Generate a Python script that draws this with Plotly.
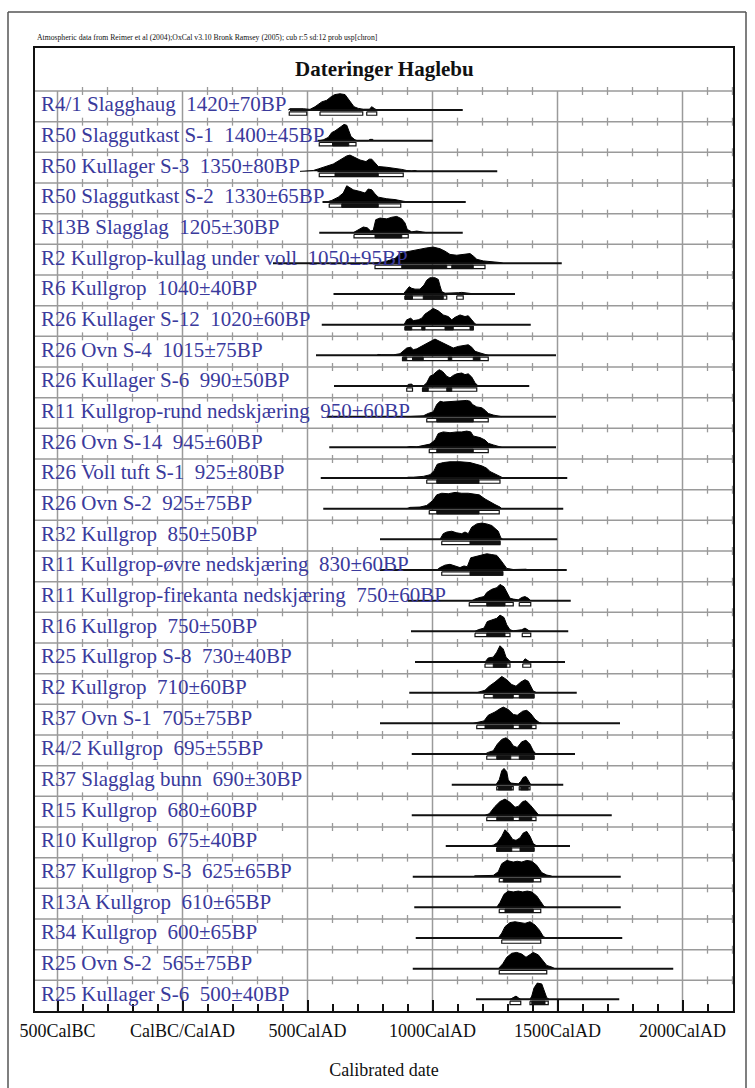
import plotly.graph_objects as go

labels = [
    "R4/1 Slagghaug  1420±70BP",
    "R50 Slaggutkast S-1  1400±45BP",
    "R50 Kullager S-3  1350±80BP",
    "R50 Slaggutkast S-2  1330±65BP",
    "R13B Slagglag  1205±30BP",
    "R2 Kullgrop-kullag under voll  1050±95BP",
    "R6 Kullgrop  1040±40BP",
    "R26 Kullager S-12  1020±60BP",
    "R26 Ovn S-4  1015±75BP",
    "R26 Kullager S-6  990±50BP",
    "R11 Kullgrop-rund nedskjæring  950±60BP",
    "R26 Ovn S-14  945±60BP",
    "R26 Voll tuft S-1  925±80BP",
    "R26 Ovn S-2  925±75BP",
    "R32 Kullgrop  850±50BP",
    "R11 Kullgrop-øvre nedskjæring  830±60BP",
    "R11 Kullgrop-firekanta nedskjæring  750±60BP",
    "R16 Kullgrop  750±50BP",
    "R25 Kullgrop S-8  730±40BP",
    "R2 Kullgrop  710±60BP",
    "R37 Ovn S-1  705±75BP",
    "R4/2 Kullgrop  695±55BP",
    "R37 Slagglag bunn  690±30BP",
    "R15 Kullgrop  680±60BP",
    "R10 Kullgrop  675±40BP",
    "R37 Kullgrop S-3  625±65BP",
    "R13A Kullgrop  610±65BP",
    "R34 Kullgrop  600±65BP",
    "R25 Ovn S-2  565±75BP",
    "R25 Kullager S-6  500±40BP",
]

line_start = [430, 540, 540, 560, 547, 362, 604, 557, 534, 606,
              578, 587, 553, 563, 790, 790, 900, 914, 930, 907,
              790, 917, 1077, 917, 1053, 921, 927, 933, 921, 1174]
line_end = [1121, 1001, 1259, 1133, 1121, 1517, 1330, 1393, 1494, 1387,
            1494, 1494, 1539, 1523, 1499, 1537, 1553, 1543, 1530, 1577,
            1750, 1570, 1523, 1717, 1550, 1753, 1753, 1759, 1963, 1747]

dist_years = [
    [423, 430, 483, 510, 530, 543, 557, 577, 597, 610, 630, 650, 663, 673, 686, 703, 723, 747, 757, 767, 777],
    [547, 563, 583, 597, 610, 630, 646, 657, 666, 674, 690, 699, 743, 750, 761, 766],
    [470, 490, 523, 543, 577, 603, 630, 657, 670, 690, 710, 734, 747, 757, 770, 783, 817, 850, 877, 897, 917, 930, 939],
    [577, 597, 623, 643, 657, 670, 683, 710, 730, 743, 757, 770, 783, 817, 850, 883, 903],
    [683, 703, 723, 739, 753, 763, 773, 790, 817, 837, 857, 877, 890, 899, 917, 937, 963, 977],
    [760, 770, 810, 850, 870, 893, 923, 950, 977, 1003, 1030, 1050, 1070, 1097, 1117, 1137, 1150, 1163, 1177, 1203, 1243, 1270, 1283],
    [883, 894, 907, 917, 930, 950, 966, 977, 990, 1010, 1023, 1030, 1037, 1050, 1083, 1103, 1117, 1143, 1163, 1170],
    [886, 897, 913, 923, 943, 957, 970, 990, 1003, 1023, 1043, 1063, 1077, 1090, 1110, 1130, 1143, 1157, 1170, 1177],
    [777, 783, 797, 843, 870, 883, 897, 913, 923, 937, 957, 977, 997, 1010, 1030, 1050, 1070, 1083, 1103, 1123, 1143, 1157, 1170, 1190, 1210, 1223],
    [897, 903, 917, 923, 963, 977, 990, 1003, 1017, 1027, 1040, 1057, 1070, 1083, 1097, 1117, 1130, 1143, 1157, 1170, 1183],
    [897, 923, 963, 983, 1003, 1017, 1030, 1043, 1063, 1083, 1103, 1123, 1137, 1150, 1160, 1177, 1197, 1210, 1223, 1243, 1263, 1277],
    [897, 910, 937, 963, 990, 1010, 1023, 1043, 1070, 1097, 1117, 1137, 1153, 1163, 1190, 1210, 1223, 1243, 1263, 1277],
    [890, 903, 923, 963, 990, 1006, 1019, 1043, 1070, 1110, 1150, 1177, 1197, 1217, 1230, 1250, 1270, 1283],
    [897, 910, 950, 977, 1001, 1017, 1037, 1063, 1090, 1117, 1143, 1163, 1187, 1210, 1230, 1250, 1270, 1277],
    [1030, 1043, 1057, 1077, 1097, 1117, 1130, 1143, 1157, 1177, 1197, 1217, 1237, 1250, 1263, 1273, 1281],
    [1017, 1030, 1050, 1070, 1090, 1110, 1126, 1139, 1153, 1177, 1197, 1217, 1237, 1257, 1273, 1286, 1297, 1323, 1363, 1374, 1383],
    [1157, 1170, 1190, 1206, 1217, 1237, 1257, 1270, 1286, 1299, 1310, 1323, 1343, 1357, 1370, 1383, 1393],
    [1170, 1183, 1206, 1219, 1237, 1257, 1270, 1286, 1297, 1310, 1323, 1357, 1370, 1383, 1390],
    [1210, 1223, 1243, 1257, 1270, 1283, 1294, 1310, 1323, 1361, 1370, 1383, 1390],
    [1177, 1190, 1210, 1227, 1250, 1277, 1297, 1317, 1334, 1353, 1370, 1383, 1393, 1403, 1417],
    [1163, 1177, 1206, 1223, 1250, 1270, 1283, 1303, 1323, 1339, 1361, 1377, 1393, 1410, 1427, 1437],
    [1210, 1223, 1243, 1259, 1277, 1294, 1310, 1323, 1339, 1357, 1374, 1390, 1403, 1414],
    [1254, 1267, 1277, 1286, 1297, 1303, 1313, 1330, 1343, 1353, 1363, 1374, 1383, 1393],
    [1210, 1227, 1250, 1270, 1290, 1310, 1330, 1343, 1361, 1374, 1393, 1410, 1423, 1430],
    [1223, 1243, 1259, 1277, 1290, 1303, 1321, 1334, 1350, 1363, 1377, 1390, 1403, 1417],
    [1163, 1170, 1243, 1263, 1277, 1297, 1323, 1339, 1357, 1377, 1397, 1417, 1437, 1457, 1473, 1481],
    [1257, 1270, 1286, 1303, 1323, 1343, 1361, 1379, 1397, 1417, 1433, 1446, 1454],
    [1263, 1277, 1290, 1310, 1330, 1350, 1370, 1390, 1410, 1427, 1443, 1454],
    [1263, 1281, 1297, 1317, 1337, 1357, 1374, 1387, 1403, 1423, 1443, 1457, 1477, 1490],
    [1310, 1321, 1334, 1343, 1353, 1390, 1397, 1406, 1419, 1437, 1446, 1457, 1467],
]

dist_prob = [
    [0, .08, .08, .04, .2, .35, .5, .6, .85, .95, 1, .95, .7, .45, .2, .1, .05, .05, .2, .1, 0],
    [0, .05, .2, .5, .6, .8, 1, .95, .6, .25, .05, 0, 0, .08, .08, 0],
    [0, .03, .05, .15, .3, .45, .7, .95, 1, .85, .7, .6, .75, .75, .5, .3, .25, .2, .12, .05, .02, .05, 0],
    [0, .1, .3, .55, 1, .9, .75, .65, .55, .8, .75, .5, .3, .2, .15, .05, 0],
    [0, .2, .35, .3, .1, .15, .8, .9, .85, .95, 1, .85, .6, .2, .05, .1, .05, 0],
    [0, .02, .1, .3, .6, .7, .8, .9, .95, 1, .9, .75, .55, .5, .55, .6, .6, .45, .25, .15, .1, .05, 0],
    [0, .2, .45, .35, .3, .3, .55, .85, 1, 1, .9, .5, .15, .05, .05, .08, .1, .07, .05, 0],
    [0, .3, .4, .25, .3, .4, .65, .85, 1, .85, .6, .5, .3, .45, .6, .5, .55, .3, .05, 0],
    [0, .05, .03, .03, .1, .3, .45, .5, .35, .4, .55, .75, .9, 1, .85, .7, .55, .45, .55, .6, .65, .5, .25, .15, .08, 0],
    [0, .1, .12, 0, 0, .2, .6, .7, .9, 1, .9, .6, .5, .65, .75, .8, .7, .75, .55, .2, 0],
    [0, .03, .05, .2, .3, .75, .95, .9, .92, .95, .95, .95, 1, .95, .75, .6, .55, .4, .2, .1, .05, 0],
    [0, .05, .03, .1, .2, .45, .85, .95, .9, .95, .95, 1, .95, .7, .6, .45, .25, .15, .05, 0],
    [0, .05, .05, .1, .2, .45, .85, .95, 1, 1, .95, .85, .75, .6, .4, .25, .1, 0],
    [0, .08, .1, .2, .5, .85, .95, .92, 1, .95, .95, .9, .85, .6, .4, .25, .1, 0],
    [0, .35, .45, .5, .4, .35, .45, .35, .75, .95, 1, .95, .85, .7, .5, .1, 0],
    [0, .15, .3, .35, .25, .15, .25, .2, .75, .85, .9, 1, .95, .9, .6, .3, .1, .03, .02, .05, 0],
    [0, .1, .2, .25, .5, .7, .8, 1, .85, .45, .15, .1, .05, .2, .25, .15, 0],
    [0, .1, .2, .6, .7, .8, 1, .85, .4, .1, .03, .1, .2, .1, 0],
    [0, .25, .3, .6, 1, .8, .3, .05, 0, 0, .2, .1, 0],
    [0, .05, .15, .4, .65, 1, .8, .5, .4, .65, .8, .7, .4, .1, 0],
    [0, .05, .15, .5, .7, .9, 1, .85, .55, .5, .75, .8, .6, .25, .05, 0],
    [0, .1, .2, .6, .9, 1, .8, .5, .4, .75, .85, .6, .2, 0],
    [0, .3, .85, 1, .8, .3, .1, .05, .05, .2, .45, .5, .3, 0],
    [0, .1, .55, .85, 1, .8, .5, .55, .85, .9, .6, .25, .05, 0],
    [0, .05, .2, .6, 1, .8, .4, .35, .5, .8, .9, .6, .15, 0],
    [0, .05, .08, .3, .8, 1, .9, .95, .9, 1, .95, .7, .25, .1, .05, 0],
    [0, .3, .8, 1, .95, 1, .95, 1, .95, .7, .35, .05, 0],
    [0, .3, .7, .95, 1, .95, .9, 1, .8, .5, .1, 0],
    [0, .3, .7, .95, 1, .9, .7, .85, 1, .85, .5, .2, .1, 0],
    [0, .1, .2, .1, 0, 0, .2, .7, 1, .95, .5, .1, 0],
]

# range brackets under each distribution: outlined (light) and solid (dark) parts
range_light = [
    [(427, 497), (550, 721), (737, 777)], [(547, 694)], [(547, 883)], [(587, 873)], [(686, 903)],
    [(770, 1210)], [(890, 1057), (1097, 1123)], [(890, 1163)], [(880, 1223)], [(897, 920), (960, 1177)],
    [(977, 1223)], [(987, 1223)], [(977, 1270)], [(987, 1267)], [(1037, 1270)],
    [(1037, 1281)], [(1147, 1323), (1347, 1393)], [(1170, 1310), (1359, 1393)], [(1210, 1310), (1361, 1393)], [(1206, 1406)],
    [(1177, 1414)], [(1217, 1406)], [(1257, 1323), (1347, 1390)], [(1217, 1414)], [(1257, 1406)],
    [(1267, 1433)], [(1267, 1433)], [(1277, 1433)], [(1267, 1457)], [(1310, 1353), (1390, 1463)],
]
range_dark = [
    [], [(600, 665)], [(610, 783)], [(637, 783)], [(770, 877)],
    [(877, 1057), (1077, 1163)], [(890, 920), (963, 1043)], [(890, 917), (957, 970), (1050, 1083), (1150, 1163)],
    [(880, 897), (920, 963), (1063, 1077), (1163, 1190)], [(960, 983), (1057, 1077)],
    [(1017, 1163)], [(1017, 1163)], [(1017, 1186)], [(1017, 1186)], [(1150, 1270)],
    [(1150, 1281)], [(1217, 1290)], [(1217, 1290)], [(1243, 1297)], [(1243, 1323), (1347, 1406)],
    [(1210, 1323), (1347, 1397)], [(1257, 1313), (1347, 1406)], [(1263, 1317), (1353, 1383)],
    [(1257, 1323), (1347, 1397)], [(1257, 1317), (1350, 1406)],
    [(1283, 1403)], [(1290, 1403)], [], [], [(1397, 1450)],
]

tick_years = [-500, 0, 500, 1000, 1500, 2000]
tick_text = ["500CalBC", "CalBC/CalAD", "500CalAD", "1000CalAD", "1500CalAD", "2000CalAD"]

# ---- geometry -------------------------------------------------------------
W, H = 755, 1088
PX_L, PX_R, PX_T, PX_B = 35, 733, 48, 1011
ROW_PX = (PX_B - 91) / 30
X_RANGE = [-590, 2202]
Y_TOP = -(91 - PX_T) / ROW_PX
BASE, PEAK = 0.62, 0.53
BAR_T, BAR_B = 0.06, 0.17
GRID = "#9a9a9a"
INK = "#111111"
BLUE = "#3a3a9c"
SERIF = "Liberation Serif, Times New Roman, serif"
n = len(labels)

fig = go.Figure()

# horizontal row separators + little crossing ticks every 100 years
gx, gy, tx, ty = [], [], [], []
for k in range(n):
    gx += [X_RANGE[0], X_RANGE[1], None]
    gy += [k, k, None]
    for yr in range(-500, 2201, 100):
        if yr % 500:
            tx += [yr, yr, None]
            ty += [k - 0.13, k + 0.13, None]
for yr in tick_years:
    gx += [yr, yr, None]
    gy += [0, n, None]
fig.add_scatter(x=gx, y=gy, mode="lines", line=dict(color=GRID, width=1.5), hoverinfo="skip")
fig.add_scatter(x=tx, y=ty, mode="lines", line=dict(color=GRID, width=1.3), hoverinfo="skip")

# distributions
px_, py_ = [], []
for i in range(n):
    base = i + BASE
    px_ += dist_years[i] + [None]
    py_ += [base - p * PEAK for p in dist_prob[i]] + [None]
fig.add_scatter(x=px_, y=py_, mode="lines", fill="toself", fillcolor="black",
                line=dict(color="black", width=1), hoverinfo="skip")

# baselines
lx, ly = [], []
for i in range(n):
    lx += [line_start[i], line_end[i], None]
    ly += [i + BASE, i + BASE, None]
fig.add_scatter(x=lx, y=ly, mode="lines", line=dict(color=INK, width=2), hoverinfo="skip")


def bar_path(segments_by_row):
    bx, by = [], []
    for i, segs in enumerate(segments_by_row):
        t, b = i + BASE + BAR_T, i + BASE + BAR_B
        for a, c in segs:
            bx += [a, c, c, a, a, None]
            by += [t, t, b, b, t, None]
    return bx, by


bx, by = bar_path(range_light)
fig.add_scatter(x=bx, y=by, mode="lines", fill="toself", fillcolor="white",
                line=dict(color=INK, width=1.2), hoverinfo="skip")
bx, by = bar_path(range_dark)
fig.add_scatter(x=bx, y=by, mode="lines", fill="toself", fillcolor=INK,
                line=dict(color=INK, width=1), hoverinfo="skip")

# sample labels
for i, lab in enumerate(labels):
    fig.add_annotation(x=39 / W, xref="paper", y=i + 0.43, yref="y",
                       text=lab.replace("  ", "\u00a0\u00a0"), showarrow=False,
                       xanchor="left", yanchor="middle",
                       font=dict(family=SERIF, size=21, color=BLUE))

fig.add_annotation(x=384 / W, y=1 - 69 / H, xref="paper", yref="paper",
                   text="<b>Dateringer Haglebu</b>", showarrow=False,
                   xanchor="center", yanchor="middle",
                   font=dict(family=SERIF, size=21, color=INK))
fig.add_annotation(x=35 / W, y=1 - 37 / H, xref="paper", yref="paper",
                   text="Atmospheric data from Reimer et al (2004);OxCal v3.10 Bronk Ramsey (2005); "
                        "cub r:5 sd:12 prob usp[chron]",
                   showarrow=False, xanchor="left", yanchor="middle",
                   font=dict(family=SERIF, size=7.7, color=INK))

# outer page frame
for x0, y0, x1, y1 in [(8, 12, 8, H), (8, 12, 746, 12), (746, 12, 746, H)]:
    fig.add_shape(type="line", xref="paper", yref="paper",
                  x0=x0 / W, y0=1 - y0 / H, x1=x1 / W, y1=1 - y1 / H,
                  line=dict(color="#555555", width=1.5))

fig.update_layout(
    width=W, height=H,
    margin=dict(l=0, r=0, t=0, b=0, autoexpand=False),
    paper_bgcolor="white", plot_bgcolor="white",
    showlegend=False,
)
fig.update_xaxes(
    domain=[PX_L / W, PX_R / W], range=X_RANGE,
    showgrid=False, zeroline=False, automargin=False,
    showline=True, linecolor=INK, linewidth=2, mirror=True,
    tickvals=tick_years, ticktext=tick_text,
    ticks="inside", ticklen=11, tickwidth=1.5, tickcolor=INK,
    minor=dict(dtick=100, tick0=0, ticks="inside", ticklen=7, tickwidth=1.5,
               tickcolor=INK, showgrid=False),
    tickfont=dict(family=SERIF, size=18, color=INK),
    ticklabelstandoff=2,
    title=dict(text="Calibrated date", standoff=24,
               font=dict(family=SERIF, size=18, color=INK)),
)
fig.update_yaxes(
    domain=[1 - PX_B / H, 1 - PX_T / H], range=[n, Y_TOP],
    showgrid=False, zeroline=False, showticklabels=False, automargin=False,
    showline=True, linecolor=INK, linewidth=2, mirror=True,
)

# the page body carries a default 8px margin; drop it so the figure sits at 0,0
fig.write_html("out.html", config={"displayModeBar": False},
               post_script="document.body.style.margin = '0';")
